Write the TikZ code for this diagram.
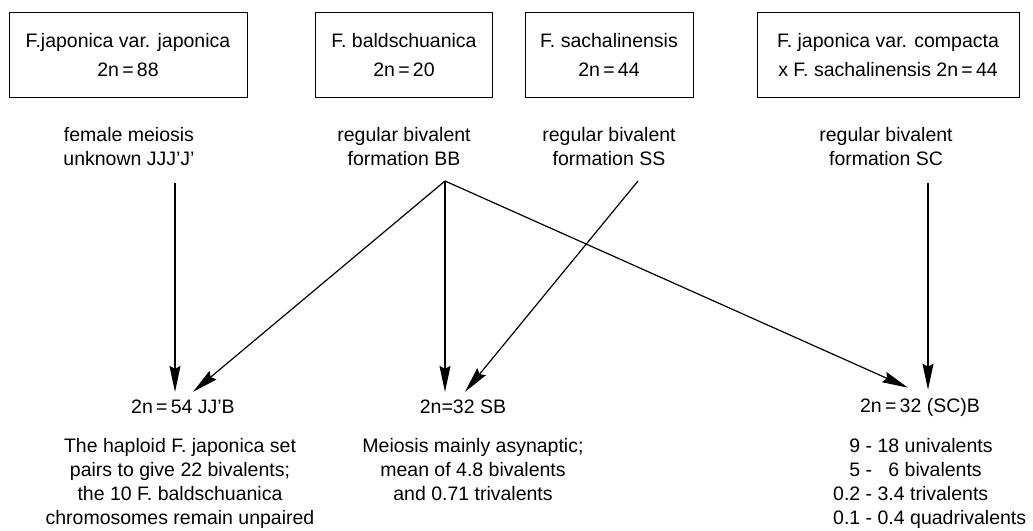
\documentclass[tikz,border=0pt]{standalone}
\usepackage{fontspec}
\setmainfont{Liberation Sans}
\usetikzlibrary{arrows.meta}

\begin{document}
\begin{tikzpicture}[x=1pt,y=-1pt,
    txt/.style={font=\fontsize{19.5}{24}\selectfont, align=center, inner sep=2pt},
    species/.style={txt, draw, line width=1pt, minimum height=85pt, font=\fontsize{19.5}{29}\selectfont},
    hybrid/.style={txt, inner xsep=2pt, inner ysep=8pt},
    link/.style={line width=1.2pt, -{Stealth[length=26pt,width=11pt,inset=3pt]}}]

    % Fix the frame of the picture
    \useasboundingbox (0,0) rectangle (1033,530);

    % Parent taxa in boxes
    \node[species, minimum width=238pt] (jap) at (128,55) {F.japonica var. japonica\\2n\,=\,88};
    \node[species, minimum width=177pt] (bald) at (404,55) {F. baldschuanica\\2n\,=\,20};
    \node[species, minimum width=168pt] (sach) at (609,55) {F. sachalinensis\\2n\,=\,44};
    \node[species, minimum width=262pt] (comp) at (888,55) {F. japonica var. compacta\\x F. sachalinensis 2n\,=\,44};

    % Meiosis of each parent
    \node[txt] (japmei) at (129,147) {female meiosis\\unknown JJJ'J'};
    \node[txt] (baldmei) at (404,147) {regular bivalent\\formation BB};
    \node[txt] (sachmei) at (609,147) {regular bivalent\\formation SS};
    \node[txt] (compmei) at (886,147) {regular bivalent\\formation SC};

    % Start points of the arrows
    \coordinate (japout) at (175,183);
    \coordinate (baldout) at (445,181);
    \coordinate (sachout) at (638,181);
    \coordinate (compout) at (928,183);

    % Hybrids
    \node[hybrid] (jjb) at (183,407) {2n\,=\,54 JJ'B};
    \node[hybrid] (sb) at (463,407) {2n=32 SB};
    \node[hybrid] (scb) at (920,407) {2n\,=\,32 (SC)B};

    % Arrows from the parents to the hybrids
    \draw[link] (japout) -- ([xshift=-8pt]jjb.north);
    \draw[link] (baldout) -- ([xshift=10pt]jjb.north);
    \draw[link] (baldout) -- ([xshift=-18pt]sb.north);
    \draw[link] (sachout) -- ([xshift=2pt]sb.north);
    \draw[link] (baldout) -- ([xshift=-12pt,yshift=2pt]scb.north);
    \draw[link] (compout) -- ([xshift=8pt]scb.north);

    % Meiosis of the hybrids
    \node[txt] (jjbmei) at (180,483.5) {The haploid F. japonica set\\pairs to give 22 bivalents;\\the 10 F. baldschuanica\\chromosomes remain unpaired};
    \node[txt] (sbmei) at (473,469.2) {Meiosis mainly asynaptic;\\mean of 4.8 bivalents\\and 0.71 trivalents};
    \node[txt, align=left, anchor=west] (scbmei) at (831,483.5) {\hphantom{0.}9 - 18 univalents\\\hphantom{0.}5 - \hphantom{1}6 bivalents\\0.2 - 3.4 trivalents\\0.1 - 0.4 quadrivalents};

\end{tikzpicture}
\end{document}
